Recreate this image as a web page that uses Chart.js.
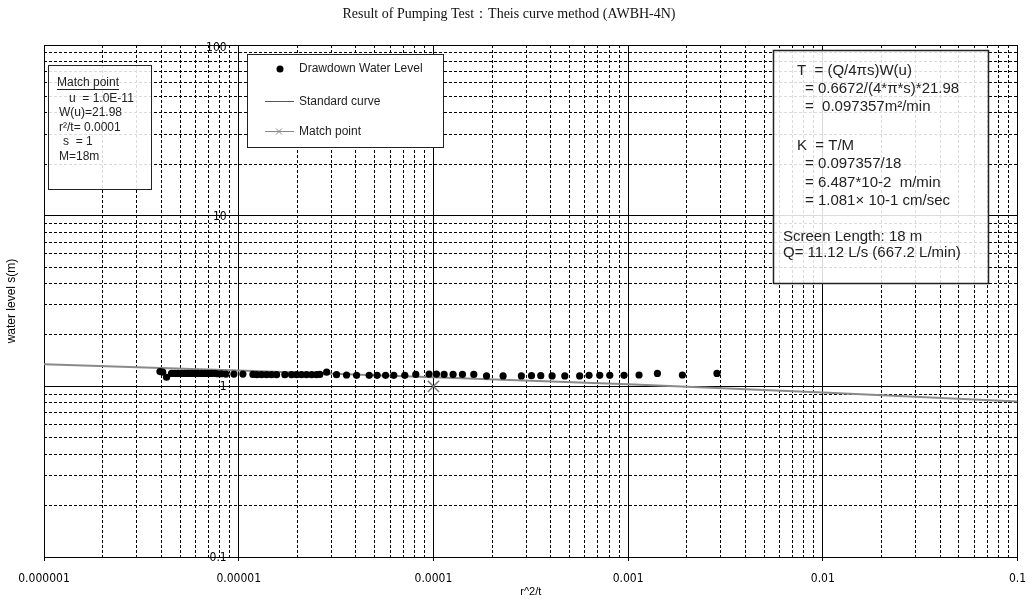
<!DOCTYPE html>
<html>
<head>
<meta charset="utf-8">
<script src="https://cdn.jsdelivr.net/npm/chart.js@4/dist/chart.umd.min.js"></script>
<style>
  body { margin: 0; background: #fff; }
  canvas { display: block; }
</style>
</head>
<body>
<canvas id="chart" width="1027" height="599"></canvas>
<script>
// r^2/t of each observation and measured drawdown s(m)
const rt = [3.94e-6, 4.07e-6, 4.26e-6, 4.52e-6, 4.70e-6, 4.87e-6, 5.09e-6, 5.29e-6, 5.49e-6, 5.73e-6,
            5.96e-6, 6.17e-6, 6.45e-6, 6.71e-6, 6.95e-6, 7.26e-6, 7.55e-6, 7.82e-6, 8.17e-6, 8.60e-6,
            9.45e-6, 1.051e-5, 1.183e-5, 1.240e-5, 1.311e-5, 1.391e-5, 1.475e-5, 1.565e-5, 1.726e-5, 1.869e-5,
            1.982e-5, 2.10e-5, 2.23e-5, 2.37e-5, 2.51e-5, 2.61e-5, 2.83e-5, 3.18e-5, 3.58e-5, 4.03e-5,
            4.68e-5, 5.14e-5, 5.68e-5, 6.26e-5, 7.13e-5, 8.12e-5, 9.50e-5, 1.037e-4, 1.135e-4, 1.262e-4,
            1.410e-4, 1.612e-4, 1.874e-4, 2.28e-4, 2.83e-4, 3.19e-4, 3.56e-4, 4.07e-4, 4.73e-4, 5.64e-4,
            6.30e-4, 7.15e-4, 8.05e-4, 9.53e-4, 1.138e-3, 1.414e-3, 1.90e-3, 2.86e-3];
const drawdown = [1.22, 1.21, 1.13, 1.19, 1.19, 1.19, 1.19, 1.19, 1.19, 1.19,
                  1.19, 1.19, 1.19, 1.19, 1.19, 1.19, 1.19, 1.185, 1.185, 1.18,
                  1.18, 1.18, 1.175, 1.17, 1.17, 1.17, 1.17, 1.17, 1.17, 1.17,
                  1.17, 1.17, 1.17, 1.17, 1.17, 1.175, 1.21, 1.17, 1.165, 1.16,
                  1.16, 1.16, 1.16, 1.16, 1.16, 1.175, 1.18, 1.18, 1.175, 1.175,
                  1.175, 1.175, 1.15, 1.15, 1.15, 1.155, 1.155, 1.15, 1.15, 1.15,
                  1.16, 1.16, 1.16, 1.16, 1.165, 1.19, 1.165, 1.19];

// standard (Theis) curve
const curveX = [1e-6, 1e-5, 1e-4, 1e-3, 1e-2, 1e-1];
const curveS = [1.345, 1.24, 1.13, 1.03, 0.92, 0.814];

const matchX = [1e-4];
const matchS = [1];

const xTicks = [1e-6, 1e-5, 1e-4, 1e-3, 1e-2, 1e-1];
const xTickLabels = ['0.000001', '0.00001', '0.0001', '0.001', '0.01', '0.1'];
const yTicks = [0.1, 1, 10, 100];
const yTickLabels = ['0.1', '1', '10', '100'];

const minorMult = [2, 3, 4, 5, 6, 7, 8, 9];
function minorTicks(decades) {
  const out = [];
  decades.slice(0, -1).forEach(d => minorMult.forEach(m => out.push({ value: d * m })));
  return out;
}

const SANS = '"Liberation Sans", Arial, sans-serif';
const NARROW = '"Liberation Sans Narrow", "DejaVu Sans Condensed", Arial, sans-serif';
Chart.defaults.font.family = SANS;
Chart.defaults.color = '#000';

const boxes = {
  id: 'boxes',
  afterDraw(chart) {
    const ctx = chart.ctx;
    const xs = chart.scales.x, ys = chart.scales.y;
    ctx.save();

    // y tick labels, drawn next to the 1e-5 line as in the original
    ctx.font = '12px ' + NARROW;
    ctx.fillStyle = '#000';
    ctx.textAlign = 'right';
    ctx.textBaseline = 'middle';
    const lx = xs.getPixelForValue(1e-5) - 12;
    yTicks.forEach((v, i) => {
      let py = ys.getPixelForValue(v) + 1;
      if (i === yTicks.length - 1) py += 2;
      ctx.fillText(yTickLabels[i], lx, py);
    });

    ctx.textAlign = 'left';
    // match point box
    ctx.fillStyle = 'rgba(255,255,255,0.86)';
    ctx.fillRect(48, 65, 103, 124);
    ctx.strokeStyle = '#222';
    ctx.lineWidth = 1;
    ctx.strokeRect(48.5, 65.5, 103, 124);
    ctx.fillStyle = '#222';
    ctx.font = '12px ' + SANS;
    ctx.fillText('Match point', 57, 83);
    const w = ctx.measureText('Match point').width;
    ctx.beginPath(); ctx.moveTo(57, 89.5); ctx.lineTo(57 + w, 89.5); ctx.stroke();
    ctx.fillText('u  = 1.0E-11', 69, 99);
    ctx.fillText('W(u)=21.98', 59, 113);
    ctx.fillText('r²/t= 0.0001', 59, 128);
    ctx.fillText('s  = 1', 63, 142);
    ctx.fillText('M=18m', 59, 157);

    // legend box
    ctx.fillStyle = '#fff';
    ctx.fillRect(247, 54, 196, 93);
    ctx.strokeStyle = '#222';
    ctx.strokeRect(247.5, 54.5, 196, 93);
    ctx.fillStyle = '#000';
    ctx.beginPath(); ctx.arc(280, 69, 3.5, 0, Math.PI * 2); ctx.fill();
    ctx.fillStyle = '#222';
    ctx.fillText('Drawdown Water Level', 299, 69);
    ctx.strokeStyle = '#555';
    ctx.beginPath(); ctx.moveTo(265, 101.5); ctx.lineTo(294, 101.5); ctx.stroke();
    ctx.fillText('Standard curve', 299, 102);
    ctx.strokeStyle = '#888';
    ctx.beginPath(); ctx.moveTo(265, 131.5); ctx.lineTo(294, 131.5);
    ctx.moveTo(276, 128.5); ctx.lineTo(282, 134.5);
    ctx.moveTo(282, 128.5); ctx.lineTo(276, 134.5);
    ctx.stroke();
    ctx.fillText('Match point', 299, 132);

    // result box
    ctx.fillStyle = 'rgba(255,255,255,0.86)';
    ctx.fillRect(773, 50, 215, 233);
    ctx.strokeStyle = '#222';
    ctx.lineWidth = 1.5;
    ctx.strokeRect(773.5, 50.5, 215, 233);
    ctx.fillStyle = '#222';
    ctx.font = '15px ' + SANS;
    ctx.fillText('T  = (Q/4πs)W(u)', 797, 71);
    ctx.fillText('= 0.6672/(4*π*s)*21.98', 805, 89);
    ctx.fillText('=  0.097357m²/min', 805, 107);
    ctx.fillText('K  = T/M', 797, 146);
    ctx.fillText('= 0.097357/18', 805, 164);
    ctx.fillText('= 6.487*10-2  m/min', 805, 183);
    ctx.fillText('= 1.081× 10-1 cm/sec', 805, 201);
    ctx.fillText('Screen Length: 18 m', 783, 237);
    ctx.fillText('Q= 11.12 L/s (667.2 L/min)', 783, 253);
    ctx.restore();
  }
};

new Chart(document.getElementById('chart'), {
  type: 'scatter',
  data: {
    datasets: [
      {
        label: 'Drawdown Water Level',
        data: rt.map((v, i) => ({ x: v, y: drawdown[i] })),
        pointRadius: 3.6,
        pointHoverRadius: 3.6,
        backgroundColor: '#000',
        borderColor: '#000',
        borderWidth: 0
      },
      {
        label: 'Standard curve',
        type: 'line',
        data: curveX.map((v, i) => ({ x: v, y: curveS[i] })),
        borderColor: '#8a8a8a',
        borderWidth: 2,
        pointRadius: 0,
        tension: 0,
        fill: false
      },
      {
        label: 'Match point',
        data: matchX.map((v, i) => ({ x: v, y: matchS[i] })),
        pointStyle: 'crossRot',
        pointRadius: 8,
        borderColor: '#777',
        borderWidth: 1.5
      }
    ]
  },
  options: {
    responsive: false,
    animation: false,
    devicePixelRatio: 1,
    layout: { padding: { left: 0, right: 9, top: 0, bottom: 0 } },
    plugins: {
      legend: { display: false },
      tooltip: { enabled: false },
      title: {
        display: true,
        text: 'Result of Pumping Test：Theis curve method (AWBH-4N)',
        font: { family: '"Liberation Serif", "Times New Roman", serif', size: 14, weight: 'normal' },
        color: '#111',
        padding: { top: 6, bottom: 22.2 }
      }
    },
    scales: {
      x: {
        type: 'logarithmic',
        min: 1e-6,
        max: 1e-1,
        afterBuildTicks: a => { a.ticks = xTicks.map(v => ({ value: v })); },
        afterFit: a => { a.height = 42; a.paddingLeft = 0; a.paddingRight = 0; },
        ticks: {
          autoSkip: false,
          maxRotation: 0,
          padding: 11,
          font: { size: 12, family: NARROW },
          callback: (v, i) => xTickLabels[i]
        },
        grid: { color: '#000', lineWidth: 1, tickLength: 4, tickColor: '#000' },
        border: { color: '#000', width: 1 },
        title: { display: true, text: 'r^2/t', font: { size: 11 }, padding: { top: 0, bottom: 0 } }
      },
      xMinor: {
        type: 'logarithmic',
        position: 'bottom',
        min: 1e-6,
        max: 1e-1,
        afterBuildTicks: a => { a.ticks = minorTicks(xTicks); },
        afterFit: a => { a.height = 0; a.paddingLeft = 0; a.paddingRight = 0; },
        ticks: { display: false },
        grid: { color: '#000', lineWidth: 1, drawTicks: false },
        border: { display: false, dash: [3, 2] }
      },
      y: {
        type: 'logarithmic',
        min: 0.1,
        max: 100,
        afterBuildTicks: a => { a.ticks = yTicks.map(v => ({ value: v })); },
        afterFit: a => { a.width = 44; a.paddingTop = 0; a.paddingBottom = 0; },
        ticks: { display: false },
        grid: { color: '#000', lineWidth: 1, drawTicks: false },
        border: { color: '#000', width: 1 },
        title: { display: true, text: 'water level s(m)', font: { size: 12 }, padding: { top: 4 } }
      },
      yMinor: {
        type: 'logarithmic',
        position: 'left',
        min: 0.1,
        max: 100,
        afterBuildTicks: a => { a.ticks = minorTicks(yTicks); },
        afterFit: a => { a.width = 0; a.paddingTop = 0; a.paddingBottom = 0; },
        ticks: { display: false },
        grid: { color: '#000', lineWidth: 1, drawTicks: false },
        border: { display: false, dash: [3, 2] }
      }
    }
  },
  plugins: [boxes]
});
</script>
</body>
</html>
